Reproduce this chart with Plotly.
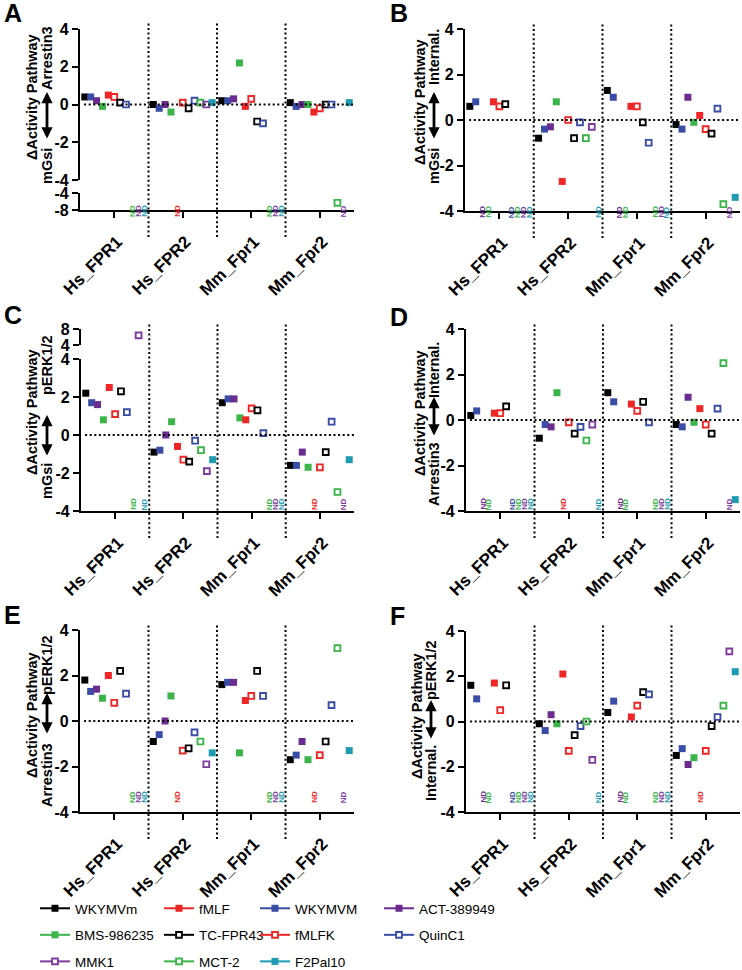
import plotly.graph_objects as go

W, H = 742, 970

receptors = ["Hs_FPR1", "Hs_FPR2", "Mm_Fpr1", "Mm_Fpr2"]
compounds = ["WKYMVm", "WKYMVM", "ACT-389949", "BMS-986235", "fMLF", "fMLFK",
             "TC-FPR43", "QuinC1", "MCT-2", "MMK1", "F2Pal10"]
colors = ["#000000", "#3A4DA6", "#6A2C8F", "#3BB54A", "#EE2626", "#EE2626",
          "#000000", "#3A4DA6", "#3BB54A", "#7D3C9E", "#1E9BB0"]
hollow = [False, False, False, False, False, True, True, True, True, True, False]
legend_order = ["WKYMVm", "fMLF", "WKYMVM", "ACT-389949",
                "BMS-986235", "TC-FPR43", "fMLFK", "QuinC1",
                "MMK1", "MCT-2", "F2Pal10"]

# rows follow `compounds`, columns follow `receptors`; None = ND
vals_A = [
    [0.4, 0.0, 0.2, 0.1],
    [0.4, -0.2, 0.2, -0.1],
    [0.2, 0.0, 0.3, 0.0],
    [-0.1, -0.4, 2.2, 0.0],
    [0.5, None, -0.1, -0.4],
    [0.4, 0.1, 0.3, -0.2],
    [0.1, -0.2, -0.9, 0.0],
    [0.0, 0.2, -1.0, 0.0],
    [None, 0.1, None, -6.3],
    [None, 0.0, None, None],
    [None, 0.1, None, 0.1],
]
vals_B = [
    [0.6, -0.8, 1.3, -0.2],
    [0.8, -0.4, 1.0, -0.4],
    [None, -0.3, None, 1.0],
    [None, 0.8, None, -0.1],
    [0.8, -2.7, 0.6, 0.2],
    [0.6, 0.0, 0.6, -0.4],
    [0.7, -0.8, -0.1, -0.6],
    [None, -0.1, -1.0, 0.5],
    [None, -0.8, None, -3.7],
    [None, -0.3, None, None],
    [None, None, None, -3.4],
]
vals_C = [
    [2.2, -0.9, 1.7, -1.6],
    [1.7, -0.8, 1.9, -1.6],
    [1.6, 0.0, 1.9, -0.9],
    [0.8, 0.7, 0.9, -1.7],
    [2.5, -0.6, 0.8, None],
    [1.1, -1.3, 1.4, -1.7],
    [2.3, -1.4, 1.3, -0.9],
    [1.2, -0.3, 0.1, 0.7],
    [None, -0.8, None, -3.0],
    [6.4, -1.9, None, None],
    [None, -1.3, None, -1.3],
]
vals_D = [
    [0.2, -0.8, 1.2, -0.2],
    [0.4, -0.2, 0.8, -0.3],
    [None, -0.3, None, 1.0],
    [None, 1.2, None, -0.1],
    [0.3, None, 0.7, 0.5],
    [0.3, -0.1, 0.4, -0.2],
    [0.6, -0.6, 0.8, -0.6],
    [None, -0.3, -0.1, 0.5],
    [None, -0.9, None, 2.5],
    [None, -0.2, None, None],
    [None, None, None, -3.5],
]
vals_E = [
    [1.8, -0.9, 1.6, -1.7],
    [1.3, -0.6, 1.7, -1.5],
    [1.4, 0.0, 1.7, -0.9],
    [1.0, 1.1, -1.4, -1.7],
    [2.0, None, 0.9, None],
    [0.8, -1.3, 1.1, -1.5],
    [2.2, -1.2, 2.2, -0.9],
    [1.2, -0.5, 1.1, 0.7],
    [None, -0.9, None, 3.2],
    [None, -1.9, None, None],
    [None, -1.4, None, -1.3],
]
vals_F = [
    [1.6, -0.1, 0.4, -1.5],
    [1.0, -0.4, 0.9, -1.2],
    [None, 0.3, None, -1.9],
    [None, -0.1, None, -1.6],
    [1.7, 2.1, 0.2, None],
    [0.5, -1.3, 0.7, -1.3],
    [1.6, -0.6, 1.3, -0.2],
    [None, -0.2, 1.2, 0.2],
    [None, 0.0, None, 0.7],
    [None, -1.7, None, 3.1],
    [None, None, None, 2.2],
]

FONT = "Liberation Sans, Arial, sans-serif"
SLOT = 0.086

# layout geometry in pixels
panels = [
    dict(letter="A", vals=vals_A, x0=80, x1=354, top=29, bot=180,
         seg=dict(top=193, bot=210, rng=[-8, -4]), xbot=210,
         lx=2, ly=13.5, t1=(32, 97), up=("Arrestin3", 47, 58), arr=(47, 92, 140), dn=("mGsi", 47, 166)),
    dict(letter="B", vals=vals_B, x0=465, x1=740, top=29, bot=211, seg=None, xbot=211,
         lx=388, ly=13.5, t1=(420, 102), up=("Internal.", 434, 57), arr=(434, 92, 140), dn=("mGsi", 434, 166)),
    dict(letter="C", vals=vals_C, x0=81, x1=354, top=359, bot=511,
         seg=dict(top=329, bot=345, rng=[4, 8]), xbot=511,
         lx=2, ly=315, t1=(32, 412), up=("pERK1/2", 47, 365), arr=(47, 415, 457), dn=("mGsi", 47, 481)),
    dict(letter="D", vals=vals_D, x0=466, x1=740, top=329, bot=511, seg=None, xbot=511,
         lx=388, ly=317, t1=(420, 413), up=("Internal.", 434, 370), arr=(434, 397, 437), dn=("Arrestin3", 434, 474)),
    dict(letter="E", vals=vals_E, x0=80, x1=354, top=630, bot=812, seg=None, xbot=812,
         lx=2, ly=615, t1=(32, 715), up=("pERK1/2", 47, 665), arr=(47, 693, 735), dn=("Arrestin3", 47, 775)),
    dict(letter="F", vals=vals_F, x0=466, x1=740, top=631, bot=812, seg=None, xbot=812,
         lx=388, ly=616, t1=(417, 716), up=("pERK1/2", 431, 670), arr=(431, 700, 740), dn=("Internal.", 431, 773)),
]


def px(x):
    return x / W


def py(y):
    return 1 - y / H


def ref(kind, i):
    return kind + ("" if i == 1 else str(i))


def lname(kind, i):
    return kind + "axis" + ("" if i == 1 else str(i))


fig = go.Figure()
layout = {}
shapes = []
annotations = []

axis_line = dict(showline=True, linecolor="black", linewidth=2.2, ticks="outside",
                 ticklen=6, tickwidth=2.2, tickcolor="black", showgrid=False,
                 zeroline=False, fixedrange=True, automargin=False)
xtickfont = dict(family=FONT, size=17, color="black", weight="bold")
ytickfont = dict(family=FONT, size=16, color="black", weight="bold")


def marker_for(ci):
    if hollow[ci]:
        return dict(symbol="square", size=5.8, color="white",
                    line=dict(color=colors[ci], width=1.9))
    return dict(symbol="square", size=7, color=colors[ci], line=dict(width=0))


for pi, p in enumerate(panels):
    xi = pi + 1
    yi_main = 2 * pi + 1
    yi_seg = 2 * pi + 2
    seg = p["seg"]
    x_anchor_y = yi_main
    if seg is not None and seg["top"] > p["bot"]:
        x_anchor_y = yi_seg

    layout[lname("x", xi)] = dict(
        domain=[px(p["x0"]), px(p["x1"])], range=[-0.5, 3.5],
        anchor=ref("y", x_anchor_y), tickvals=list(range(len(receptors))),
        ticktext=receptors, tickangle=-45, tickfont=xtickfont,
        ticklabelshift=3, ticklabelstandoff=7, **axis_line)
    layout[lname("y", yi_main)] = dict(
        domain=[py(p["bot"]), py(p["top"])], range=[-4, 4], anchor=ref("x", xi),
        tickvals=[-4, -2, 0, 2, 4], ticktext=["-4", "-2", "0", "2", "4"],
        tickfont=ytickfont, **axis_line)
    if seg is not None:
        lo, hi = seg["rng"]
        layout[lname("y", yi_seg)] = dict(
            domain=[py(seg["bot"]), py(seg["top"])], range=[lo, hi], anchor=ref("x", xi),
            tickvals=[lo, hi], ticktext=[str(lo), str(hi)],
            tickfont=ytickfont, **axis_line)

    # data points
    for ci, name in enumerate(compounds):
        row = p["vals"][ci]
        xm, ym, xs, ys = [], [], [], []
        for ri, v in enumerate(row):
            xpos = ri + (ci - 5) * SLOT
            if v is None:
                annotations.append(dict(
                    x=xpos, y=py(p["xbot"] - 7), xref=ref("x", xi), yref="paper",
                    text="ND", textangle=-90, showarrow=False,
                    font=dict(family=FONT, size=8, color=colors[ci], weight="bold")))
            elif -4 <= v <= 4:
                xm.append(xpos)
                ym.append(v)
            else:
                xs.append(xpos)
                ys.append(v)
        fig.add_trace(go.Scatter(x=xm, y=ym, mode="markers", marker=marker_for(ci),
                                 xaxis=ref("x", xi), yaxis=ref("y", yi_main),
                                 showlegend=False, hoverinfo="skip", cliponaxis=False))
        if xs:
            fig.add_trace(go.Scatter(x=xs, y=ys, mode="markers", marker=marker_for(ci),
                                     xaxis=ref("x", xi), yaxis=ref("y", yi_seg),
                                     showlegend=False, hoverinfo="skip", cliponaxis=False))

    dot = dict(color="black", width=2, dash="2px,2.6px")
    # zero line
    shapes.append(dict(type="line", xref=ref("x", xi), yref=ref("y", yi_main),
                       x0=-0.44, x1=3.5, y0=0, y1=0, line=dot))
    # dividers between receptors
    ytop = p["top"] if seg is None else min(p["top"], seg["top"])
    for d in [0.5, 1.5, 2.5]:
        shapes.append(dict(type="line", xref=ref("x", xi), yref="paper",
                           x0=d, x1=d, y0=py(p["xbot"] + 27), y1=py(ytop - 6), line=dot))

    # panel letter
    annotations.append(dict(x=px(p["lx"]), y=py(p["ly"]), xref="paper", yref="paper",
                            xanchor="left", yanchor="middle", text=p["letter"],
                            showarrow=False,
                            font=dict(family=FONT, size=25, color="black", weight="bold")))
    # y titles
    tfont = dict(family=FONT, size=14.5, color="black", weight="bold")
    annotations.append(dict(x=px(p["t1"][0]), y=py(p["t1"][1]), xref="paper", yref="paper",
                            text="\u0394Activity Pathway", textangle=-90, showarrow=False,
                            xanchor="center", yanchor="middle", font=tfont))
    for (txt, tx, ty) in (p["up"], p["dn"]):
        annotations.append(dict(x=px(tx), y=py(ty), xref="paper", yref="paper",
                                text=txt, textangle=-90, showarrow=False,
                                xanchor="center", yanchor="middle", font=tfont))
    ax_x, a_y0, a_y1 = p["arr"]
    annotations.append(dict(x=px(ax_x), y=py(a_y0), xref="paper", yref="paper",
                            ax=0, ay=a_y1 - a_y0, axref="pixel", ayref="pixel",
                            text="", showarrow=True, arrowside="end+start",
                            arrowhead=2, startarrowhead=2, arrowsize=0.8,
                            startarrowsize=0.8, arrowwidth=2.8, arrowcolor="black",
                            standoff=0, startstandoff=0))

# legend entries
legend_x = [35, 159, 255, 379]
for li, name in enumerate(legend_order):
    ci = compounds.index(name)
    col = li % 4
    m = marker_for(ci)
    fig.add_trace(go.Scatter(x=[None], y=[None], mode="lines+markers", name=name,
                             marker=m, line=dict(color=colors[ci], width=2),
                             legend="legend" if col == 0 else f"legend{col + 1}",
                             legendgroup=name, hoverinfo="skip"))

for col in range(4):
    key = "legend" if col == 0 else f"legend{col + 1}"
    layout[key] = dict(x=px(legend_x[col]), y=py(893), xanchor="left", yanchor="top",
                       orientation="v", bgcolor="rgba(0,0,0,0)", tracegroupgap=6,
                       font=dict(family=FONT, size=13.5, color="black"),
                       itemwidth=30, traceorder="grouped")

fig.update_layout(width=W, height=H, autosize=False,
                  margin=dict(l=0, r=0, t=0, b=0, autoexpand=False),
                  paper_bgcolor="white", plot_bgcolor="white",
                  showlegend=True, hovermode=False,
                  shapes=shapes, annotations=annotations, **layout)

fig.write_html("out.html")
